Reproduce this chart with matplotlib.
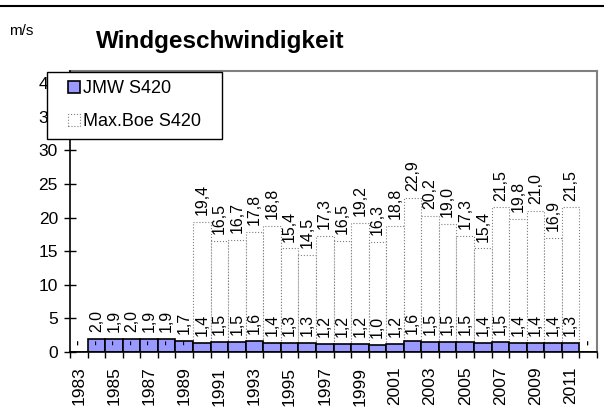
import matplotlib
matplotlib.use('Agg')
import matplotlib.pyplot as plt
from matplotlib.patches import Patch, Rectangle
from matplotlib.lines import Line2D
from matplotlib.legend_handler import HandlerPatch

# Daten
years = list(range(1983, 2013))
jmw = [0, 2.0, 1.9, 2.0, 1.9, 1.9, 1.7, 1.4, 1.5, 1.5, 1.6, 1.4, 1.3, 1.3, 1.2,
       1.2, 1.2, 1.0, 1.2, 1.6, 1.5, 1.5, 1.5, 1.4, 1.5, 1.4, 1.4, 1.4, 1.3, 0]
max_boe = [0, 0, 0, 0, 0, 0, 0, 19.4, 16.5, 16.7, 17.8, 18.8, 15.4, 14.5, 17.3,
           16.5, 19.2, 16.3, 18.8, 22.9, 20.2, 19.0, 17.3, 15.4, 21.5, 19.8, 21.0,
           16.9, 21.5, 0]
series_names = ['JMW S420', 'Max.Boe S420']
year_labels = [str(y) for y in years[::2]]

plt.rcParams['font.family'] = ['Liberation Sans', 'DejaVu Sans']

W, H = 604, 412
fig = plt.figure(figsize=(W / 100, H / 100), dpi=100)
ax = fig.add_axes([70 / W, 1 - 352 / H, (597 - 70) / W, (352 - 71) / H])

x = list(range(len(years)))
bars_max = ax.bar(x, max_boe, width=1.0, color='white', edgecolor='#808080',
                  linestyle=':', linewidth=0.8, zorder=1)
bars_jmw = ax.bar(x, jmw, width=1.0, color='#9999FF', edgecolor='black',
                  linewidth=1.2, zorder=2)


def fmt(v):
    return '-' if v == 0 else f'{v:.1f}'.replace('.', ',')


ax.bar_label(bars_max, labels=[fmt(v) for v in max_boe], rotation=90,
             padding=5, fontsize=11.5)
ax.bar_label(bars_jmw, labels=[fmt(v) for v in jmw], rotation=90,
             padding=5, fontsize=11.5)

ax.set_xlim(-0.5, len(years) - 0.5)
ax.set_ylim(0, 41.8)

for side in ['top', 'right']:
    ax.spines[side].set_color('#808080')
    ax.spines[side].set_linewidth(1.5)
for side in ['left', 'bottom']:
    ax.spines[side].set_color('black')
    ax.spines[side].set_linewidth(1.2)
    ax.spines[side].set_zorder(3)

ax.set_yticks(range(0, 45, 5))
ax.tick_params(axis='y', direction='inout', length=8.6, width=1, pad=4.4,
               labelsize=12.5)
ax.set_xticks(x[::2])
ax.set_xticklabels(year_labels, rotation=90)
ax.set_xticks([i - 0.5 for i in range(len(years) + 1)], minor=True)
ax.tick_params(axis='x', which='major', length=0, pad=10.5, labelsize=12.5)
ax.tick_params(axis='x', which='minor', direction='out', length=4, width=1)


def square(legend, orig_handle, xdescent, ydescent, width, height, fontsize):
    s = 0.67 * fontsize
    return Rectangle((width - s - xdescent, -ydescent + (height - s) / 2), s, s)


handles = [Patch(facecolor='#9999FF', edgecolor='black', linewidth=1.2),
           Patch(facecolor='white', edgecolor='#808080', linestyle=':', linewidth=0.8)]
leg = ax.legend(handles, series_names, loc='upper left',
                bbox_to_anchor=(47 / W, 1 - 72 / H, 175 / W, 0),
                bbox_transform=fig.transFigure, mode='expand', borderaxespad=0,
                fontsize=13, handlelength=1.39, handletextpad=0.17,
                borderpad=0.45, labelspacing=0.9,
                handler_map={Patch: HandlerPatch(patch_func=square)},
                fancybox=False, framealpha=1, edgecolor='black')
leg.get_frame().set_linewidth(1.0)
leg.set_zorder(10)

fig.add_artist(Line2D([0, 1], [1 - 6 / H] * 2, transform=fig.transFigure,
                      color='black', linewidth=1.5))
fig.text(220 / W, 1 - 48 / H, 'Windgeschwindigkeit', ha='center', va='baseline',
         fontsize=17.5, fontweight='bold')
fig.text(9 / W, 1 - 35 / H, 'm/s', ha='left', va='baseline', fontsize=11)

fig.savefig('out.png', dpi=100)
